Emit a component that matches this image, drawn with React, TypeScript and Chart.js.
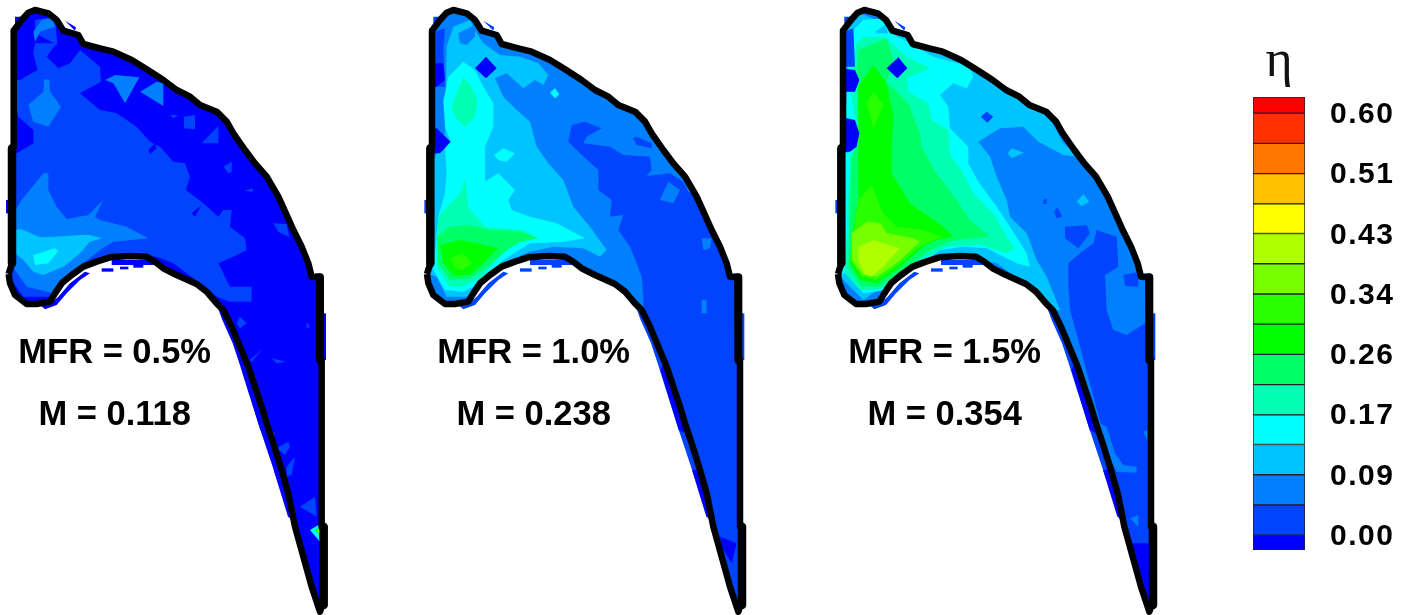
import React, { useEffect, useRef } from "react";
import { Chart, registerables } from "chart.js";
Chart.register(...registerables);

// Contour level colours, lowest band to highest band
const LEVEL_COLORS = ["#0000ff","#0044ff","#0080ff","#00c4ff","#00ffff","#00ffb4","#00ff66","#00ff00","#2aff00","#77ff00","#b0ff00","#ffff00","#ffc000","#ff7700","#ff3300","#ff0000"];
// Colour bar band edges in eta
const BAND_EDGES = [-0.021,0,0.043,0.086,0.129,0.171,0.214,0.257,0.3,0.343,0.386,0.429,0.471,0.514,0.557,0.6,0.623];
const ETA_TICKS = [0,0.0857,0.1714,0.2571,0.3429,0.4286,0.5143,0.6];
const MFR_LABELS = ["MFR = 0.5%","MFR = 1.0%","MFR = 1.5%"];
const M_LABELS = ["M = 0.118","M = 0.238","M = 0.354"];
const LABEL_X = [344,1601,2834];
const OUTLINE_SHIFT = [0,1255,2488];
const REGION_SHIFT = [0,1260,2490];

// Blade section outline (flat x,y list in image units)
const BLADE = [26,822,30,850,45,885,80,912,110,912,150,905,165,880,185,850,215,825,250,800,290,785,330,772,390,768,440,770,465,785,490,805,530,825,590,852,620,875,650,910,670,930,695,980,720,1040,745,1100,765,1160,785,1220,800,1270,820,1330,845,1410,865,1480,885,1580,910,1670,935,1760,960,1835,972,1800,972,1580,965,1580,965,1080,960,1080,958,832,935,830,925,790,905,740,880,690,860,645,835,590,800,530,765,490,735,450,700,400,680,365,650,335,600,315,570,290,530,270,490,240,440,208,395,180,340,155,300,145,250,132,235,105,190,92,170,60,145,40,105,30,85,38,65,60,41,92,41,440,36,445,36,790,26,822];
const THICK_LEFT = [36,445,36,790];
const THICK_RIGHT_UP = [960,832,960,1080];
const THICK_RIGHT_LOW = [971,1580,971,1815];
const FRINGES = [
  [645,900,667,960,698,1030,718,1090,743,1170,778,1280,808,1370,838,1460,870,1555,885,1580,850,1410,800,1270,745,1100,695,980,650,900],
  [120,915,135,928,170,915,200,880,240,840,270,820,255,815,210,850,175,890,150,912],
  [335,780,440,780,470,795,335,795],
  [305,805,340,805,340,815,305,815],
  [360,800,385,800,385,808,360,808],
  [400,795,430,795,430,803,400,803],
  [45,90,45,50,72,50],
  [195,62,228,82,225,92],
  [945,820,962,820,962,832,945,832],
  [965,940,978,940,978,1080,965,1080],
  [18,600,26,600,26,640,18,640],
];
const FRINGE_LEVEL = [0,1,1];
const DEEP_FRINGES = [
  [726,1110,751,1190,781,1290,800,1300,765,1160,735,1090],
  [821,1410,864,1550,880,1560,845,1410],
];

type Region = [number, number[]];
const P1_REGIONS: Region[] = [
  [0,[0,0,1100,0,1100,1900,0,1900]],
  [1,[30,240,60,240,112,210,100,160,105,130,170,130,140,170,175,205,210,190,240,150,300,200,303,245,240,280,300,330,350,340,410,380,450,425,480,440,520,485,555,490,570,530,558,570,610,610,655,650,670,630,695,630,690,680,735,715,740,750,700,770,655,790,690,860,755,860,755,905,690,905,650,890,600,850,520,790,470,770,350,770,250,800,170,890,70,890,20,820,20,460,50,460,100,430,100,390,55,350]],
  [1,[105,60,165,50,172,135,105,100]],
  [2,[100,95,125,60,155,55,165,80,120,95,105,125]],
  [2,[85,315,130,275,132,238,148,240,150,275,183,320,145,380,100,365]],
  [2,[315,240,345,225,418,232,375,310,340,250]],
  [2,[420,275,470,245,490,250,490,318,445,290]],
  [1,[510,345,535,345,520,355]],
  [1,[552,350,585,345,585,388,552,385]],
  [1,[605,430,655,378,655,430]],
  [1,[670,500,695,485,695,515,685,520]],
  [1,[735,572,758,565,758,575]],
  [1,[820,670,860,672,868,712,835,695]],
  [0,[445,450,465,430,470,445,450,462]],
  [0,[575,640,605,615,585,650]],
  [2,[65,600,130,520,145,520,145,570,170,620,200,657,265,645,310,600,285,650,300,660,380,680,445,715,340,725,300,750,250,790,210,830,160,880,80,860,45,810,20,700,40,640]],
  [3,[20,690,65,688,120,712,165,710,240,705,270,705,305,715,270,725,240,760,190,800,130,825,100,815,70,780,20,740]],
  [4,[100,765,165,745,175,752,145,790,105,795]],
  [1,[710,970,720,950,740,970,720,985]],
  [1,[750,1080,790,1045,755,1085]],
  [1,[815,1075,858,1085,830,1090]],
  [1,[920,965,930,980,920,985]],
  [1,[810,1290,825,1300,815,1330]],
  [1,[830,1345,865,1325,870,1340,855,1365]],
  [1,[860,1400,885,1370,875,1425,860,1430]],
  [1,[900,1520,945,1490,950,1550]],
  [4,[930,1590,955,1575,960,1625]],
  [7,[945,1590,960,1580,960,1605]],
  [10,[950,1590,960,1590,960,1602]],
];
const P2_REGIONS: Region[] = [
  [2,[0,0,1100,0,1100,1900,0,1900]],
  [1,[445,425,455,375,495,365,545,385,500,410,490,430,570,440,610,465,690,470,695,510,680,528,750,520,790,545,805,575,860,600,1000,800,1000,1850,950,1850,880,1600,820,1400,745,1150,670,930,670,890,665,830,650,790,630,740,595,690,610,645,570,650,575,600,535,570,535,510,480,460]],
  [2,[720,600,745,545,780,570,760,610]],
  [2,[845,715,875,715,870,745,850,750]],
  [2,[845,900,860,900,860,940,845,940]],
  [0,[900,1610,950,1630,935,1690,905,1640]],
  [1,[640,415,650,410,695,430,695,445,650,435]],
  [1,[30,100,75,85,70,150,75,260,30,260]],
  [3,[80,140,100,80,150,60,170,100,190,130,240,165,300,170,355,190,385,225,370,255,345,240,310,265,260,220,225,235,250,290,290,330,330,365,350,440,385,490,430,540,460,620,510,680,560,750,540,770,490,745,400,740,330,755,250,790,180,860,140,890,80,890,50,830,20,820,25,650,30,500,50,460,75,400]],
  [2,[115,100,165,75,165,110,140,135,120,130]],
  [0,[30,190,70,190,75,240,50,260,30,260]],
  [4,[75,280,85,230,130,185,165,210,190,260,220,310,220,380,195,440,195,545,235,520,285,570,265,600,275,630,330,650,410,670,495,715,430,725,330,730,250,780,180,850,130,875,75,870,40,810,55,650,75,580,80,520,75,440,90,420,75,380,70,300]],
  [4,[222,465,250,445,285,460,260,485,235,480]],
  [4,[390,278,405,265,418,283,405,295]],
  [5,[95,320,130,230,155,260,172,300,165,350,135,380,105,350]],
  [5,[55,650,120,580,135,535,145,620,195,680,310,690,355,715,290,730,250,760,185,830,130,860,90,860,50,800]],
  [6,[50,710,90,680,150,675,210,690,300,695,355,715,300,725,260,750,190,810,150,835,90,840,55,790]],
  [7,[60,735,120,720,170,730,235,745,190,790,150,825,100,825,70,790]],
  [8,[90,775,130,760,155,790,130,810,105,805]],
  [0,[165,205,198,170,230,205,198,235]],
  [0,[30,385,50,385,92,425,60,460,30,460]],
];
const P3_REGIONS: Region[] = [
  [2,[0,0,1100,0,1100,1900,0,1900]],
  [1,[715,790,750,760,790,730,800,690,860,710,865,800,825,825,830,930,850,990,890,1005,945,970,1000,970,1000,1850,950,1850,880,1600,830,1340,745,1020,720,930,715,850]],
  [1,[705,680,770,675,780,700,745,745,705,715]],
  [1,[880,825,925,815,925,860,885,858]],
  [2,[808,1270,830,1280,855,1360,880,1395,920,1400,920,1418,860,1415,815,1330]],
  [2,[900,1555,925,1545,925,1580]],
  [2,[940,1295,952,1290,952,1320]],
  [0,[905,1630,965,1630,965,1800,940,1780]],
  [3,[0,0,440,190,640,320,700,430,745,470,700,465,625,425,580,380,510,385,445,425,480,470,500,530,530,600,540,650,590,700,620,780,650,830,670,880,690,930,650,930,600,860,500,790,400,770,200,830,100,900,20,820,20,440,30,90]],
  [4,[60,100,100,60,165,55,175,95,240,130,310,170,420,200,430,230,410,265,370,250,330,285,355,320,360,385,415,440,415,490,445,545,500,620,540,680,590,760,600,800,560,790,470,745,400,740,330,750,260,800,170,870,100,880,50,820,25,820,40,450,50,300]],
  [3,[135,95,165,75,175,100,140,100]],
  [5,[80,130,100,110,165,110,230,170,300,205,230,235,235,275,295,310,305,360,355,390,360,465,395,510,430,580,490,640,525,700,555,745,530,760,450,735,350,740,270,780,190,850,140,870,90,870,45,820,60,470,85,420,60,260]],
  [6,[85,150,170,115,190,180,170,245,235,310,270,400,275,440,320,520,380,600,420,660,480,710,375,720,300,750,230,800,150,860,95,860,55,800,65,470,90,420,85,350,80,230]],
  [7,[85,260,130,195,170,250,190,350,185,440,185,520,240,610,340,680,370,710,320,720,280,740,200,810,140,850,90,840,60,790,70,680,85,600,85,470]],
  [8,[85,600,125,555,160,640,200,680,280,690,335,710,270,740,200,800,140,840,95,830,62,780,70,690]],
  [8,[110,310,130,275,160,315,130,385]],
  [9,[65,700,110,665,150,670,170,700,250,715,270,725,200,790,140,830,100,825,66,780]],
  [10,[85,740,130,720,210,745,160,800,125,830,100,820,85,780]],
  [0,[170,205,205,172,232,205,202,235]],
  [1,[30,100,70,85,75,200,30,200]],
  [0,[30,205,75,210,88,240,75,275,30,275]],
  [0,[30,350,75,360,88,400,80,440,60,455,30,460]],
  [3,[438,280,483,277,470,305]],
  [1,[452,350,470,335,490,350,472,368]],
  [3,[533,460,545,445,582,458,545,475]],
  [1,[640,600,650,595,650,612,640,612]],
  [1,[672,635,682,622,697,650,680,655]],
  [3,[740,605,760,583,778,605,755,618]],
];
const PANELS = [P1_REGIONS, P2_REGIONS, P3_REGIONS];

const pts = (flat: number[], dx: number) => {
  const out: { x: number; y: number }[] = [];
  for (let i = 0; i < flat.length; i += 2) out.push({ x: flat[i] + dx, y: flat[i + 1] });
  return out;
};

function buildDatasets() {
  const list: any[] = [];
  const line = (flat: number[], dx: number, w: number) => ({
    type: "scatter", data: pts(flat, dx), showLine: true, pointRadius: 0, borderColor: "#000", borderWidth: w,
    borderJoinStyle: "round", borderCapStyle: "butt", fill: false, tension: 0,
  });
  PANELS.forEach((regions, p) => {
    FRINGES.forEach((f) => list.push({ type: "scatter", data: pts(f, OUTLINE_SHIFT[p]), showLine: false, pointRadius: 0, polygon: true, fillColor: LEVEL_COLORS[FRINGE_LEVEL[p]] }));
    DEEP_FRINGES.forEach((f) => list.push({ type: "scatter", data: pts(f, OUTLINE_SHIFT[p]), showLine: false, pointRadius: 0, polygon: true, fillColor: LEVEL_COLORS[0] }));
    regions.forEach(([lvl, poly]) => list.push({ type: "scatter", data: pts(poly, REGION_SHIFT[p]), showLine: false, pointRadius: 0, polygon: true, fillColor: LEVEL_COLORS[lvl], clipShift: OUTLINE_SHIFT[p] }));
    list.push(line(BLADE, OUTLINE_SHIFT[p], 6.5));
    list.push(line(THICK_LEFT, OUTLINE_SHIFT[p], 8.5));
    list.push(line(THICK_RIGHT_UP, OUTLINE_SHIFT[p], 8));
    list.push(line(THICK_RIGHT_LOW, OUTLINE_SHIFT[p], 8.5));
  });
  list.forEach((d, i) => (d.order = list.length - i));
  return list;
}

const polygonPlugin = {
  id: "polygonFill",
  beforeDatasetDraw(chart: any, args: any) {
    const ds = chart.data.datasets[args.index];
    if (!ds.polygon) return;
    const { ctx, scales } = chart;
    ctx.save();
    if (ds.clipShift !== undefined) {
      const clip = new Path2D();
      pts(BLADE, ds.clipShift).forEach((q, i) => {
        const px = scales.x.getPixelForValue(q.x), py = scales.y.getPixelForValue(q.y);
        if (i === 0) clip.moveTo(px, py); else clip.lineTo(px, py);
      });
      clip.closePath();
      ctx.clip(clip);
    }
    ctx.beginPath();
    args.meta.data.forEach((el: any, i: number) => (i === 0 ? ctx.moveTo(el.x, el.y) : ctx.lineTo(el.x, el.y)));
    ctx.closePath();
    ctx.fillStyle = ds.fillColor;
    ctx.fill();
    ctx.restore();
  },
  afterDraw(chart: any) {
    const { ctx, scales } = chart;
    ctx.save();
    ctx.fillStyle = "#000";
    ctx.font = "bold 34.5px 'Liberation Sans'";
    ctx.textAlign = "center";
    ctx.textBaseline = "middle";
    LABEL_X.forEach((x, i) => {
      ctx.fillText(MFR_LABELS[i], scales.x.getPixelForValue(x), scales.y.getPixelForValue(1059));
      ctx.fillText(M_LABELS[i], scales.x.getPixelForValue(x), scales.y.getPixelForValue(1245));
    });
    ctx.restore();
  },
};

const barPlugin = {
  id: "etaBar",
  beforeDraw(chart: any) {
    chart.ctx.letterSpacing = "1.5px";
  },
  afterDraw(chart: any) {
    const { ctx, scales } = chart;
    ctx.save();
    ctx.letterSpacing = "0px";
    ctx.fillStyle = "#111";
    ctx.font = "52px 'Liberation Serif'";
    ctx.textAlign = "center";
    ctx.textBaseline = "alphabetic";
    ctx.fillText("η", scales.x.getPixelForValue(0), 76);
    ctx.restore();
  },
};

export default function App() {
  const mainRef = useRef<HTMLCanvasElement>(null);
  const barRef = useRef<HTMLCanvasElement>(null);
  useEffect(() => {
    const main = new Chart(mainRef.current!, {
      type: "scatter",
      data: { datasets: buildDatasets() },
      options: {
        animation: false, responsive: false,
        layout: { padding: 0 },
        plugins: { legend: { display: false }, tooltip: { enabled: false }, title: { display: false } },
        scales: {
          x: { type: "linear", min: 0, max: 3690, display: false },
          y: { type: "linear", min: 0, max: 1845, reverse: true, display: false },
        },
      },
      plugins: [polygonPlugin],
    } as any);
    const bands = LEVEL_COLORS.map((c, i) => ({
      data: [[BAND_EDGES[i], BAND_EDGES[i + 1]]], backgroundColor: c, borderColor: "#222", borderWidth: 1,
      borderSkipped: false, barPercentage: 1, categoryPercentage: 1, grouped: false,
    }));
    const bar = new Chart(barRef.current!, {
      type: "bar",
      data: { labels: ["eta"], datasets: bands },
      options: {
        animation: false, responsive: false,
        layout: { padding: { left: 23, right: 0, top: 97, bottom: 65 } },
        plugins: { legend: { display: false }, tooltip: { enabled: false }, title: { display: false } },
        scales: {
          x: { display: false },
          y: {
            position: "right", min: BAND_EDGES[0], max: BAND_EDGES[16],
            grid: { display: false }, border: { display: false },
            afterBuildTicks: (s: any) => { s.ticks = ETA_TICKS.map((value) => ({ value })); },
            afterFit: (s: any) => { s.width = 111; },
            ticks: {
              padding: 17, labelOffset: 1.5, color: "#000", autoSkip: false, maxRotation: 0, minRotation: 0,
              font: { family: "'Liberation Sans'", weight: "bold", size: 30 },
              callback: (v: any) => Number(v).toFixed(2),
            },
          },
        },
      },
      plugins: [barPlugin],
    } as any);
    return () => { main.destroy(); bar.destroy(); };
  }, []);
  return (
    <div style={{ position: "absolute", left: 0, top: 0, width: 1416, height: 615, background: "#fff", overflow: "hidden" }}>
      <canvas ref={mainRef} width={1230} height={615} style={{ position: "absolute", left: 0, top: 0 }} />
      <canvas ref={barRef} width={186} height={615} style={{ position: "absolute", left: 1230, top: 0 }} />
    </div>
  );
}
